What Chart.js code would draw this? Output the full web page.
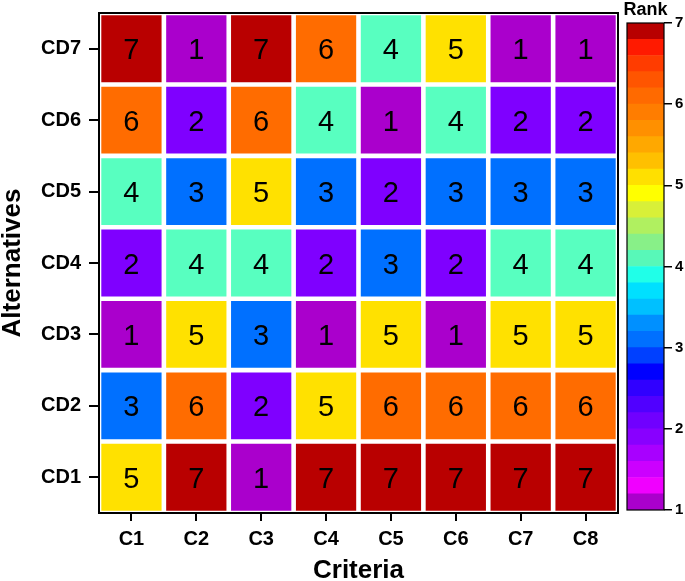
<!DOCTYPE html>
<html>
<head>
<meta charset="utf-8">
<script src="https://cdn.jsdelivr.net/npm/chart.js@4"></script>
<style>
    body { margin: 0; background: #fff; }
    #wrap { position: relative; width: 685px; height: 581px; }
    canvas { position: absolute; top: 0; }
</style>
</head>
<body>
<div id="wrap">
    <canvas id="heatmap" width="685" height="581" style="left:0"></canvas>
    <canvas id="colorbar" width="79" height="581" style="left:606px"></canvas>
</div>
<script>
var criteria = ["C1", "C2", "C3", "C4", "C5", "C6", "C7", "C8"];
var alternatives = ["CD1", "CD2", "CD3", "CD4", "CD5", "CD6", "CD7"];

// rank of each alternative under each criterion
var rankCD1 = [5, 7, 1, 7, 7, 7, 7, 7];
var rankCD2 = [3, 6, 2, 5, 6, 6, 6, 6];
var rankCD3 = [1, 5, 3, 1, 5, 1, 5, 5];
var rankCD4 = [2, 4, 4, 2, 3, 2, 4, 4];
var rankCD5 = [4, 3, 5, 3, 2, 3, 3, 3];
var rankCD6 = [6, 2, 6, 4, 1, 4, 2, 2];
var rankCD7 = [7, 1, 7, 6, 4, 5, 1, 1];
var ranks = [rankCD1, rankCD2, rankCD3, rankCD4, rankCD5, rankCD6, rankCD7];

// cell colour for rank 1..7
var rankColors = ["#aa00cc", "#7f00ff", "#0070ff", "#58ffc0", "#ffe100", "#ff6c00", "#b90000"];

// colour bar bands, bottom (1) to top (7)
var bandColors = [
    "#aa00cc", "#f000ff", "#cc00ff", "#a800ff", "#8800ff",
    "#7000ff", "#5000ff", "#3000ff", "#0000ff", "#0040ff",
    "#0070ff", "#0090ff", "#00c0ff", "#00e0ff", "#20ffe8",
    "#58f8b8", "#88f088", "#b0f060", "#d8f038", "#ffff00",
    "#ffe000", "#ffc000", "#ffa800", "#ff9000", "#ff7d00",
    "#ff6a00", "#ff5500", "#ff3c00", "#ff1a00", "#b80000"
];
var rankTicks = [1, 2, 3, 4, 5, 6, 7];

var fontFamily = '"Liberation Sans", Arial, sans-serif';
Chart.defaults.font.family = fontFamily;
Chart.defaults.color = "#000";

// black box round the plot area, optional caption above it
function framePlugin(width, caption) {
    return {
        id: "frame",
        afterDraw: function (chart) {
            var a = chart.chartArea, ctx = chart.ctx;
            ctx.save();
            ctx.strokeStyle = "#000";
            ctx.lineWidth = width;
            ctx.strokeRect(a.left, a.top, a.right - a.left, a.bottom - a.top);
            if (caption) {
                ctx.font = "bold 18px " + fontFamily;
                ctx.fillStyle = "#000";
                ctx.textAlign = "center";
                ctx.textBaseline = "alphabetic";
                ctx.fillText(caption, (a.left + a.right) / 2, 15);
            }
            ctx.restore();
        }
    };
}

// rank number in the middle of each cell
var rankLabels = {
    id: "rankLabels",
    afterDatasetsDraw: function (chart) {
        var ctx = chart.ctx;
        ctx.save();
        ctx.font = "29px " + fontFamily;
        ctx.fillStyle = "#000";
        ctx.textAlign = "center";
        ctx.textBaseline = "alphabetic";
        chart.data.datasets.forEach(function (ds, i) {
            chart.getDatasetMeta(i).data.forEach(function (bar, j) {
                var cy = (bar.y + bar.base) / 2;
                ctx.fillText(String(ranks[i][j]), bar.x, cy + 10.5);
            });
        });
        ctx.restore();
    }
};

var cellSets = alternatives.map(function (name, i) {
    return {
        label: name,
        data: criteria.map(function () { return [i + 0.5, i + 1.5]; }),
        backgroundColor: ranks[i].map(function (v) { return rankColors[v - 1]; }),
        borderColor: "#fff",
        borderWidth: 2.3,
        borderSkipped: false,
        inflateAmount: 0,
        grouped: false,
        barPercentage: 1,
        categoryPercentage: 1
    };
});

new Chart(document.getElementById("heatmap"), {
    type: "bar",
    data: { labels: criteria, datasets: cellSets },
    options: {
        responsive: false,
        animation: false,
        layout: { padding: { top: 13, right: 67, left: 0, bottom: 0 } },
        plugins: { legend: { display: false }, tooltip: { enabled: false } },
        scales: {
            x: {
                grid: { offset: false, drawOnChartArea: false, tickLength: 8, color: "#000", lineWidth: 2 },
                border: { display: false },
                ticks: { font: { size: 20, weight: "bold" }, padding: 6 },
                title: { display: true, text: "Criteria", font: { size: 26, weight: "bold", lineHeight: 0.8 }, padding: 0 },
                afterFit: function (s) { s.height = 68; }
            },
            y: {
                min: 0.5,
                max: 7.5,
                afterBuildTicks: function (s) {
                    s.ticks = alternatives.map(function (a, i) { return { value: i + 1 }; });
                },
                ticks: {
                    font: { size: 20, weight: "bold" },
                    padding: 8,
                    callback: function (value) { return alternatives[value - 1]; }
                },
                grid: { drawOnChartArea: false, tickLength: 10, color: "#000", lineWidth: 2 },
                border: { display: false },
                title: { display: true, text: "Alternatives", font: { size: 26, weight: "bold", lineHeight: 1 }, padding: 0 },
                afterFit: function (s) {
                    s.width = 99;
                    s.paddingTop = 0;
                    s.paddingBottom = 0;
                }
            }
        }
    },
    plugins: [rankLabels, framePlugin(2)]
});

var bandSets = bandColors.map(function (c, i) {
    var step = (rankTicks[rankTicks.length - 1] - rankTicks[0]) / bandColors.length;
    return {
        data: [[rankTicks[0] + i * step, rankTicks[0] + (i + 1) * step]],
        backgroundColor: c,
        borderWidth: 0,
        grouped: false,
        barPercentage: 1,
        categoryPercentage: 1
    };
});

new Chart(document.getElementById("colorbar"), {
    type: "bar",
    data: { labels: ["Rank"], datasets: bandSets },
    options: {
        responsive: false,
        animation: false,
        layout: { padding: { left: 21, top: 23, right: 0, bottom: 71 } },
        plugins: { legend: { display: false }, tooltip: { enabled: false } },
        scales: {
            x: { display: false },
            y: {
                position: "right",
                min: 1,
                max: 7,
                afterBuildTicks: function (s) {
                    s.ticks = rankTicks.map(function (v) { return { value: v }; });
                },
                ticks: { font: { size: 15, weight: "bold" }, padding: 3 },
                grid: { drawOnChartArea: false, tickLength: 8, color: "#000", lineWidth: 1.5 },
                border: { display: false },
                afterFit: function (s) { s.width = 21; }
            }
        }
    },
    plugins: [framePlugin(1.2, "Rank")]
});
</script>
</body>
</html>
